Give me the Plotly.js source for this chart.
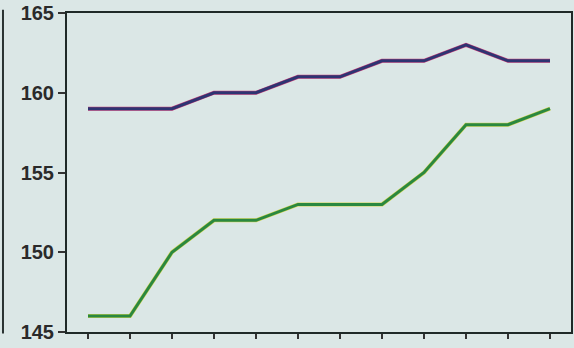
<!DOCTYPE html>
<html>
<head>
<meta charset="utf-8">
<script src="https://cdn.plot.ly/plotly-3.0.1.min.js"></script>
<style>html,body{margin:0;padding:0;background:#dbe7e6;}#chart{width:574px;height:348px;}</style>
</head>
<body>
<div id="chart"></div>
<script>
var categories = [1,2,3,4,5,6,7,8,9,10,11,12];
var upperSeries = [159,159,159,160,160,161,161,162,162,163,162,162];
var lowerSeries = [146,146,150,152,152,153,153,153,155,158,158,159];
var yTickValues = [145,150,155,160,165];

var traces = [
  {x: categories, y: upperSeries, type: 'scatter', mode: 'lines', line: {color: '#c8407a', width: 4}, hoverinfo: 'skip'},
  {x: categories, y: upperSeries, type: 'scatter', mode: 'lines', line: {color: '#2e3472', width: 3}},
  {x: categories, y: lowerSeries, type: 'scatter', mode: 'lines', line: {color: '#d6d650', width: 4}, hoverinfo: 'skip'},
  {x: categories, y: lowerSeries, type: 'scatter', mode: 'lines', line: {color: '#2a8840', width: 3}}
];

var layout = {
  width: 574, height: 348,
  margin: {l: 67, r: 3, t: 13, b: 16},
  paper_bgcolor: '#dbe7e6', plot_bgcolor: '#dbe7e6',
  showlegend: false,
  font: {family: 'Liberation Sans, Arial, sans-serif', color: '#222'},
  xaxis: {
    range: [0.5, 12.5], tickvals: categories, showticklabels: false,
    ticks: 'outside', ticklen: 5, tickwidth: 2, tickcolor: '#333',
    showline: true, linecolor: '#1f2a28', linewidth: 2, mirror: true,
    showgrid: false, zeroline: false
  },
  yaxis: {
    range: [145, 165], tickvals: yTickValues, ticktext: yTickValues.map(String),
    ticks: 'outside', ticklen: 7, tickwidth: 2, tickcolor: '#333',
    tickfont: {size: 20, color: '#2a2a2a', weight: 'bold'},
    showline: true, linecolor: '#1f2a28', linewidth: 2, mirror: true,
    showgrid: false, zeroline: false
  },
  shapes: [
    {type: 'line', xref: 'paper', yref: 'paper', x0: -0.127, x1: -0.127, y0: -0.005, y1: 1.01, line: {color: '#2a3332', width: 2}}
  ]
};

Plotly.newPlot('chart', traces, layout, {displayModeBar: false, staticPlot: true});
</script>
</body>
</html>
